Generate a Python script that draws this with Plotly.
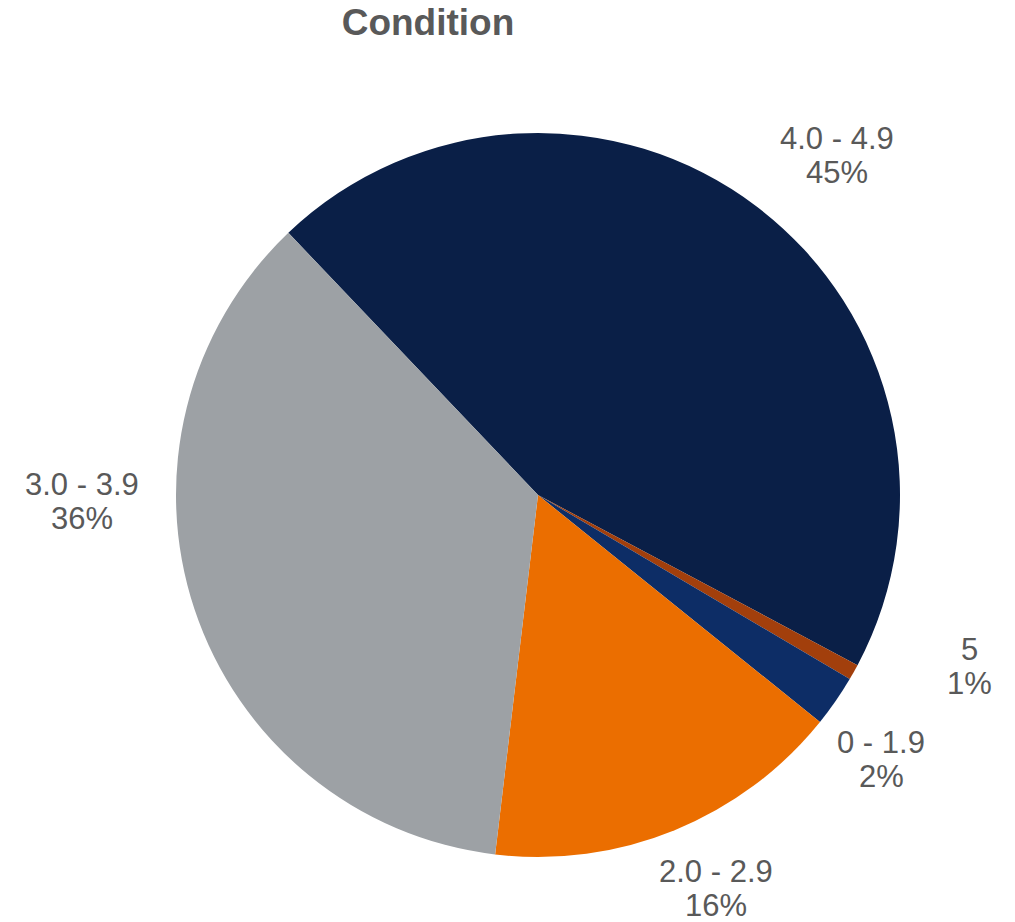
import plotly.graph_objects as go

labels = ["4.0 - 4.9", "5", "0 - 1.9", "2.0 - 2.9", "3.0 - 3.9"]
values = [44.9, 0.7, 2.3, 16.1, 36.0]
colors = ["#0A1F47", "#A23F0C", "#0D2D66", "#EB6E00", "#9DA1A5"]

W, H = 1015, 922
cx, cy, r = 538, 495, 362
FONT = "Liberation Sans, Arial, sans-serif"
TXT = "#595959"

fig = go.Figure(go.Pie(
    labels=labels,
    values=values,
    sort=False,
    direction="clockwise",
    rotation=-43.6,
    marker=dict(colors=colors, line=dict(width=0)),
    textinfo="none",
    showlegend=False,
    domain=dict(x=[(cx - r) / W, (cx + r) / W], y=[(H - cy - r) / H, (H - cy + r) / H]),
    hoverinfo="label+percent",
))

# data-label placement (pixel centre of label block, Excel "best fit" style)
label_pos = [(837, 155), (969, 666), (881, 759), (716, 888), (82, 501)]
line_gap = 34
total = sum(values)
for lab, v, (px, py) in zip(labels, values, label_pos):
    pct = f"{round(v / total * 100):.0f}%"
    for txt, yy in ((lab, py - line_gap / 2), (pct, py + line_gap / 2)):
        fig.add_annotation(
            x=px / W, y=1 - yy / H, xref="paper", yref="paper",
            text=txt, showarrow=False, xanchor="center", yanchor="middle",
            font=dict(family=FONT, size=31, color=TXT),
        )

fig.update_layout(
    width=W, height=H,
    margin=dict(l=0, r=0, t=0, b=0),
    paper_bgcolor="white",
    plot_bgcolor="white",
    title=dict(text="<b>Condition</b>", x=428 / W, xanchor="center", y=1 - 22 / H, yanchor="middle",
               font=dict(family=FONT, size=37, color=TXT)),
)

fig.write_html("out.html")
